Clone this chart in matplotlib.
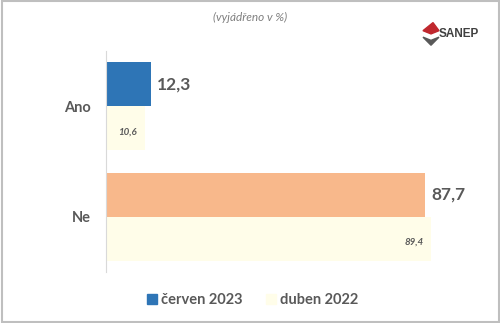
import matplotlib.pyplot as plt
import matplotlib.patches as mpatches
import numpy as np

plt.rcParams['font.family'] = ['Lato', 'DejaVu Sans']

categories = ['Ano', 'Ne']
cerven_2023 = [12.3, 87.7]
duben_2022 = [10.6, 89.4]
series_names = ['červen 2023', 'duben 2022']

blue = '#2E75B6'
orange = '#F8B88B'
cream = '#FFFDE9'
grey = '#595959'

fig = plt.figure(figsize=(5, 3.23), dpi=100)
ax = fig.add_axes([0.212, 0.158, 0.728, 0.684])

y = np.arange(len(categories))
h = 0.4
new_colors = [blue, orange]
ax.barh(y - h / 2, cerven_2023, height=h, color=new_colors)
ax.barh(y + h / 2, duben_2022, height=h, color=cream)

for yi, v in zip(y, cerven_2023):
    ax.text(v + 1.8, yi - h / 2, f'{v:.1f}'.replace('.', ','), va='center', ha='left',
            fontsize=12.5, fontweight='bold', color=grey)
for yi, v in zip(y, duben_2022):
    ax.text(v - 2.2, yi + h / 2 + 0.03, f'{v:.1f}'.replace('.', ','), va='center', ha='right',
            fontsize=7, fontweight='bold', fontstyle='italic', color=grey)

ax.set_xlim(0, 100)
ax.set_ylim(1.5, -0.5)
ax.set_yticks(y)
ax.set_yticklabels(categories, fontsize=10.5, fontweight='bold', color=grey)
ax.tick_params(axis='y', length=0, pad=11)
ax.set_xticks([])
for s in ['top', 'right', 'bottom']:
    ax.spines[s].set_visible(False)
ax.spines['left'].set_color('#D9D9D9')

fig.text(0.5, 0.945, '(vyjádřeno v %)', ha='center', va='center', fontsize=8.5,
         fontstyle='italic', color='#7F7F7F')

# legend
handles = [mpatches.Patch(color=blue), mpatches.Patch(color=cream)]
fig.legend(handles, series_names, loc='center', bbox_to_anchor=(0.505, 0.072), ncol=2,
           frameon=False, handlelength=0.7, handleheight=0.7,
           handletextpad=0.25, columnspacing=1.6,
           prop={'weight': 'bold', 'size': 10.5})
for t in fig.legends[0].get_texts():
    t.set_color(grey)

# SANEP logo
fig.patches.append(mpatches.Polygon([[0.846, 0.905], [0.866, 0.93], [0.878, 0.905], [0.862, 0.895]],
                                    closed=True, color='#C0282E', transform=fig.transFigure))
fig.patches.append(mpatches.Polygon([[0.846, 0.885], [0.862, 0.875], [0.878, 0.885], [0.862, 0.86]],
                                    closed=True, color='#595959', transform=fig.transFigure))
fig.text(0.878, 0.895, 'SANEP', ha='left', va='center', fontsize=8.5, fontweight='bold',
         color='#404040', family=['Liberation Sans', 'DejaVu Sans'])

# frame
fig.patches.append(mpatches.Rectangle((0.003, 0.004), 0.994, 0.992, fill=False,
                                      edgecolor='#BFBFBF', linewidth=1.5,
                                      transform=fig.transFigure))

fig.savefig('out.png', dpi=100)
